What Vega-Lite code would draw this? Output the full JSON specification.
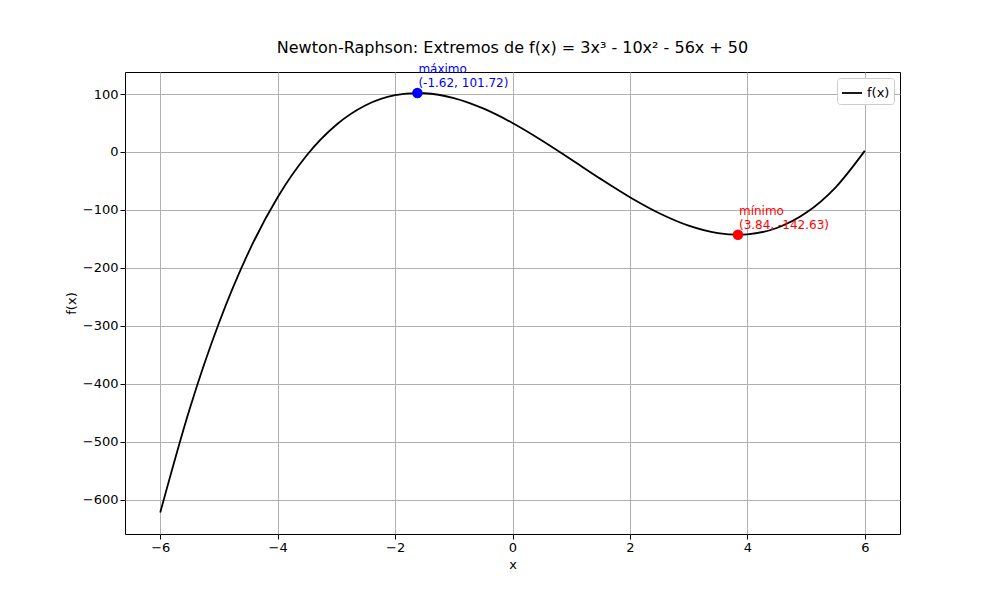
{
  "$schema": "https://vega.github.io/schema/vega-lite/v6.json",
  "width": 775,
  "height": 462,
  "autosize": "none",
  "padding": {"left": 125, "top": 72, "right": 100, "bottom": 66},
  "title": {"text": "Newton-Raphson: Extremos de f(x) = 3x³ - 10x² - 56x + 50", "font": "DejaVu Sans", "fontSize": 16, "fontWeight": "normal", "offset": 7, "color": "black"},
  "config": {
    "font": "DejaVu Sans",
    "view": {"stroke": "black", "strokeWidth": 1},
    "axis": {"grid": true, "gridColor": "#b0b0b0", "gridWidth": 1, "domain": false, "tickColor": "black", "labelFontSize": 13, "titleFontSize": 13, "titleFontWeight": "normal", "labelColor": "black", "titleColor": "black"}
  },
  "datasets": {
    "curve": [
      {"x": -6, "y": -622}, {"x": -5.5, "y": -443.625}, {"x": -5, "y": -295}, {"x": -4.5, "y": -173.875},
      {"x": -4, "y": -78}, {"x": -3.5, "y": -5.125}, {"x": -3, "y": 47}, {"x": -2.5, "y": 80.625},
      {"x": -2, "y": 98}, {"x": -1.62, "y": 101.72}, {"x": -1.5, "y": 101.375}, {"x": -1, "y": 93}, {"x": -0.5, "y": 75.125},
      {"x": 0, "y": 50}, {"x": 0.5, "y": 19.875}, {"x": 1, "y": -13}, {"x": 1.5, "y": -46.375},
      {"x": 2, "y": -78}, {"x": 2.5, "y": -105.625}, {"x": 3, "y": -127}, {"x": 3.5, "y": -139.875},
      {"x": 3.84, "y": -142.63}, {"x": 4, "y": -142}, {"x": 4.5, "y": -131.125}, {"x": 5, "y": -105}, {"x": 5.5, "y": -61.375},
      {"x": 6, "y": 2}
    ],
    "extrema": [
      {"x": -1.62, "y": 101.72, "label": ["máximo", "(-1.62, 101.72)"], "kind": "max"},
      {"x": 3.84, "y": -142.63, "label": ["mínimo", "(3.84, -142.63)"], "kind": "min"}
    ]
  },
  "layer": [
    {
      "data": {"name": "curve"},
      "mark": {"type": "line", "interpolate": "monotone", "strokeWidth": 1.8},
      "encoding": {
        "x": {"field": "x", "type": "quantitative", "scale": {"domain": [-6.6, 6.6], "nice": false, "zero": false}, "axis": {"values": [-6, -4, -2, 0, 2, 4, 6], "format": "d", "title": "x"}},
        "y": {"field": "y", "type": "quantitative", "scale": {"domain": [-659, 138], "nice": false, "zero": false}, "axis": {"values": [-600, -500, -400, -300, -200, -100, 0, 100], "title": "f(x)"}},
        "color": {"datum": "f(x)", "type": "nominal", "scale": {"range": ["black"]},
          "legend": {"title": null, "orient": "top-right", "offset": 6, "symbolType": "stroke", "symbolStrokeWidth": 1.8, "labelFontSize": 13, "strokeColor": "#cccccc", "padding": 4, "fillColor": "white", "cornerRadius": 3, "symbolSize": 400}}
      }
    },
    {
      "data": {"name": "extrema"},
      "mark": {"type": "point", "filled": true, "size": 110, "opacity": 1},
      "encoding": {
        "x": {"field": "x", "type": "quantitative"},
        "y": {"field": "y", "type": "quantitative"},
        "fill": {"field": "kind", "type": "nominal", "scale": {"domain": ["max", "min"], "range": ["blue", "red"]}, "legend": null}
      }
    },
    {
      "data": {"name": "extrema"},
      "mark": {"type": "text", "align": "left", "baseline": "bottom", "dx": 1, "dy": -17, "fontSize": 12, "lineHeight": 14},
      "encoding": {
        "x": {"field": "x", "type": "quantitative"},
        "y": {"field": "y", "type": "quantitative"},
        "text": {"field": "label"},
        "color": {"field": "kind", "type": "nominal", "scale": {"domain": ["max", "min"], "range": ["blue", "red"]}, "legend": null}
      }
    }
  ],
  "resolve": {"scale": {"color": "independent"}}
}
